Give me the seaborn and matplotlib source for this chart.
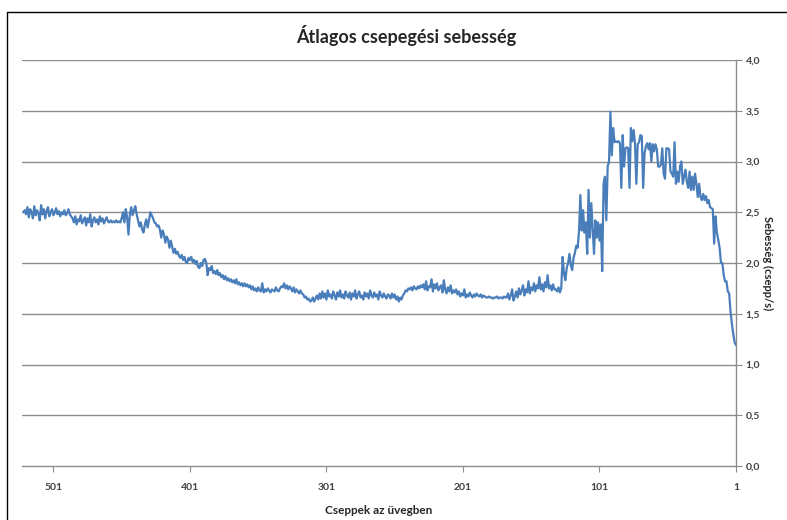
import numpy as np
import pandas as pd
import seaborn as sns
import matplotlib.pyplot as plt
from matplotlib.ticker import FuncFormatter
from matplotlib.lines import Line2D

# speed values (drops/s), left to right = many drops in the glass -> few
seg_start = [2.50, 2.52, 2.48, 2.55, 2.45, 2.53, 2.50, 2.44, 2.56, 2.47, 2.52, 2.49,
             2.42, 2.57, 2.48, 2.53, 2.44, 2.51, 2.55, 2.46, 2.50, 2.53, 2.47, 2.50,
             2.54, 2.48, 2.51, 2.46, 2.50, 2.48, 2.52, 2.47, 2.49, 2.53, 2.48, 2.46]
seg_level = [2.44, 2.40, 2.46, 2.38, 2.43, 2.41, 2.47, 2.39, 2.42, 2.45, 2.37, 2.44,
             2.40, 2.48, 2.36, 2.42, 2.45, 2.40, 2.43, 2.38, 2.46, 2.41, 2.44, 2.39,
             2.42, 2.45, 2.41, 2.40, 2.42, 2.40, 2.41, 2.40, 2.42, 2.40, 2.41, 2.40]
seg_bumps = [2.44, 2.50, 2.40, 2.53, 2.45, 2.28, 2.48, 2.55, 2.47, 2.52, 2.56, 2.48,
             2.42, 2.36, 2.40, 2.33, 2.30, 2.38, 2.43, 2.35, 2.42, 2.50, 2.47, 2.44]
seg_fall = [2.40, 2.39, 2.36, 2.37, 2.33, 2.25, 2.32, 2.28, 2.20, 2.26, 2.23, 2.15,
            2.22, 2.16, 2.10, 2.14, 2.09, 2.11, 2.07, 2.05, 2.08, 2.03, 2.06, 2.01,
            2.00, 2.05, 2.03, 2.06, 2.01, 2.03, 1.99, 2.02, 1.96, 1.95, 2.00, 1.97,
            2.03, 2.04, 2.00, 1.88, 1.95, 1.93, 1.97, 1.90, 1.92, 1.89, 1.93, 1.88]
seg_slope = [1.90, 1.86, 1.88, 1.84, 1.87, 1.83, 1.85, 1.82, 1.84, 1.81, 1.83, 1.80,
             1.84, 1.79, 1.81, 1.78, 1.80, 1.77, 1.80, 1.77, 1.79, 1.76, 1.78, 1.74,
             1.77, 1.73, 1.75, 1.72, 1.76, 1.73, 1.72, 1.80, 1.71, 1.74, 1.72, 1.75,
             1.73, 1.71, 1.74, 1.73, 1.72, 1.76, 1.73, 1.72, 1.75, 1.77, 1.76, 1.80,
             1.75, 1.78,
             1.74, 1.77, 1.75, 1.72, 1.76, 1.71, 1.74, 1.72, 1.70, 1.73, 1.70, 1.69,
             1.66, 1.67, 1.64, 1.65, 1.62, 1.63, 1.66, 1.62, 1.65, 1.68, 1.64, 1.70]
seg_low = [1.65, 1.72, 1.66, 1.70, 1.64, 1.73, 1.67, 1.69, 1.65, 1.72, 1.68, 1.64,
           1.71, 1.67, 1.73, 1.66, 1.69, 1.65, 1.72, 1.68, 1.66, 1.71, 1.64, 1.70,
           1.67, 1.73, 1.65, 1.69, 1.72, 1.66, 1.68, 1.64, 1.71, 1.67, 1.70, 1.65,
           1.73, 1.68, 1.66, 1.71, 1.67, 1.69, 1.64, 1.72, 1.68, 1.66, 1.70, 1.67,
           1.65, 1.69,
           1.68, 1.65, 1.70, 1.66, 1.69, 1.64, 1.67, 1.62, 1.66, 1.64, 1.68, 1.70,
           1.73, 1.72, 1.75, 1.74, 1.76, 1.73, 1.77, 1.75]
seg_hump = [1.74, 1.77, 1.75, 1.78, 1.76, 1.79, 1.74, 1.82, 1.73, 1.77, 1.76, 1.84,
            1.72, 1.79, 1.75, 1.80, 1.73, 1.76, 1.78, 1.71, 1.83, 1.74, 1.70, 1.76,
            1.72, 1.78, 1.70, 1.73, 1.71, 1.74]
seg_flat = [1.69, 1.72, 1.67, 1.70, 1.68, 1.74, 1.66, 1.69, 1.67, 1.71, 1.68, 1.66,
            1.69, 1.67, 1.70, 1.68, 1.67, 1.69, 1.66, 1.68, 1.67, 1.66, 1.66, 1.67,
            1.66, 1.66, 1.65, 1.66, 1.66, 1.67, 1.65, 1.66, 1.66, 1.65, 1.67, 1.66,
            1.66, 1.70, 1.64, 1.68, 1.74, 1.63]
seg_rise = [1.67, 1.72, 1.66, 1.75, 1.69, 1.73, 1.78, 1.68, 1.74, 1.71, 1.82, 1.70,
            1.76, 1.73, 1.80, 1.72, 1.78, 1.75, 1.86, 1.74, 1.79, 1.72, 1.81, 1.76,
            1.88, 1.75, 1.78, 1.73, 1.79, 1.74,
            1.74, 1.72, 1.76, 1.71, 1.75, 2.06, 1.90, 1.83, 1.95, 2.00, 2.09, 1.98,
            1.93, 2.05, 2.10, 2.17, 2.15, 2.31, 2.67, 2.32, 2.52, 2.30, 2.40, 2.09,
            2.72, 2.25, 2.59, 2.35, 2.09, 2.42, 2.25, 2.40, 2.22, 2.38, 1.92, 2.78,
            2.85, 2.42, 2.95, 3.00]
seg_peak = [3.49, 3.06, 3.33, 3.19, 3.20, 3.19, 3.20, 3.18, 2.74, 3.26, 2.95, 3.13,
            3.14, 3.13, 2.74, 3.33, 3.20, 3.31, 3.18, 2.78, 3.17, 3.19, 3.26, 3.25,
            2.74, 3.08, 3.15, 3.18, 3.12, 3.18, 3.00, 3.17, 3.10, 3.17, 3.12, 2.95,
            2.95, 2.97, 3.13, 2.88, 2.83, 3.13, 3.13, 3.12, 2.90, 2.88, 2.85, 3.19,
            2.78, 2.90, 2.80, 2.95, 3.00, 2.78, 2.85, 2.92, 2.80, 2.74, 2.90, 2.72,
            2.85, 2.72, 2.88, 2.78, 2.65, 2.78, 2.65, 2.62, 2.68, 2.62, 2.66, 2.59,
            2.62, 2.55, 2.54, 2.53, 2.19, 2.46, 2.30, 2.23, 2.15, 2.00, 2.00, 1.88,
            1.82, 1.82, 1.72, 1.70, 1.52, 1.40, 1.30, 1.22, 1.19]

speed = (seg_start + seg_level + seg_bumps + seg_fall + seg_slope + seg_low
         + seg_hump + seg_flat + seg_rise + seg_peak)
drops = np.arange(len(speed), 0, -1)
df = pd.DataFrame({'drops': drops, 'speed': speed})

x_ticks = [501, 401, 301, 201, 101, 1]
y_ticks = [0, 0.5, 1.0, 1.5, 2.0, 2.5, 3.0, 3.5, 4.0]

sns.set_style('white')
plt.rcParams['font.family'] = ['Lato', 'DejaVu Sans']

grid_col = '#8c8c8c'
text_col = '#404040'

fig = plt.figure(figsize=(7.87, 5.2), dpi=100)
ax = fig.add_axes([22 / 787, 1 - 466 / 520, (736 - 22) / 787, (466 - 60) / 520])

sns.lineplot(data=df, x='drops', y='speed', color='#4a7ebb', linewidth=1.6, ax=ax)

ax.set_xlim(len(speed) + 1, 1)
ax.set_ylim(0, 4.0)
ax.set_xticks(x_ticks)
ax.set_xticklabels([str(t) for t in x_ticks])
ax.set_yticks(y_ticks)
ax.yaxis.set_major_formatter(FuncFormatter(lambda v, p: f"{v:.1f}".replace('.', ',')))
ax.yaxis.tick_right()
ax.yaxis.set_label_position('right')
for y in y_ticks[1:]:
    ax.axhline(y, color=grid_col, linewidth=1.0, zorder=0)

for s in ['top', 'left']:
    ax.spines[s].set_visible(False)
for s in ['right', 'bottom']:
    ax.spines[s].set_color(grid_col)
    ax.spines[s].set_linewidth(1.0)

ax.tick_params(axis='x', bottom=True, length=4, color=grid_col, labelsize=7.5,
               labelcolor=text_col, pad=8)
ax.tick_params(axis='y', right=True, left=False, length=4, color=grid_col, labelsize=7.5,
               labelcolor=text_col, pad=3)
for lab in ax.get_xticklabels() + ax.get_yticklabels():
    lab.set_fontweight('bold')

fig.text(406 / 787, 1 - 36 / 520, 'Átlagos csepegési sebesség', fontsize=13,
         fontweight='bold', ha='center', va='center')
ax.set_xlabel('Cseppek az üvegben', fontsize=8.5, fontweight='bold', labelpad=9)
ax.set_ylabel('Sebesség (csepp/s)', fontsize=8, fontweight='bold', rotation=270,
              va='center')
ax.yaxis.set_label_coords(1.0 + (768 - 736) / 714, 0.5)
ax.xaxis.set_label_coords(0.5, -0.095)

# chart frame (Excel chart area border)
fig.add_artist(Line2D([7 / 787, 1], [1 - 12 / 520, 1 - 12 / 520], color='black', linewidth=1.0))
fig.add_artist(Line2D([7 / 787, 7 / 787], [0, 1 - 12 / 520], color='black', linewidth=1.0))

fig.savefig('out.png', dpi=100)
